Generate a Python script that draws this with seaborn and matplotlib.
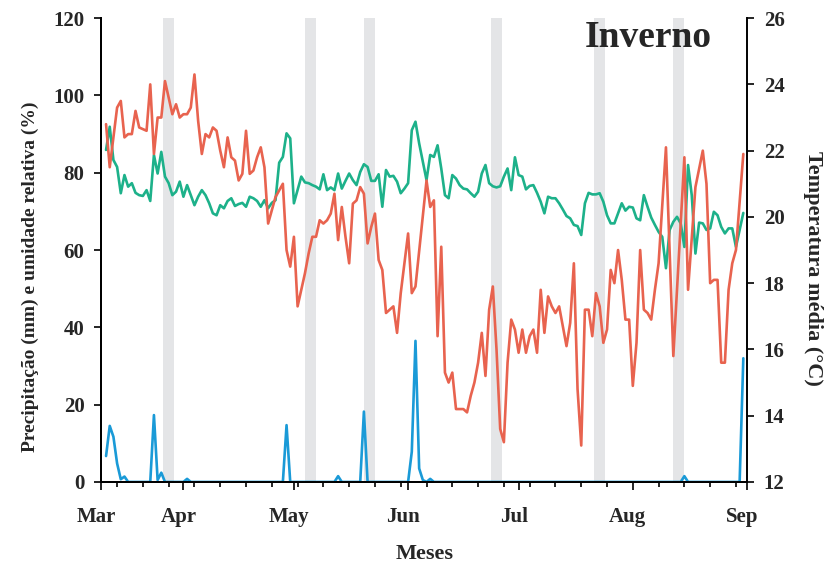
import matplotlib
matplotlib.use("Agg")
import matplotlib.pyplot as plt
from matplotlib.ticker import FixedLocator
from matplotlib.transforms import ScaledTranslation
import seaborn as sns

# days counted from 1 March
temp_day = [10, 11, 13, 14, 15, 16, 17, 18, 19, 21, 22, 23, 24, 25, 26, 27, 28, 29, 30, 31,
            32, 33, 34, 35, 36, 37, 38, 39, 40, 41, 42, 43, 44, 45, 46, 47, 48, 49, 50, 51,
            52, 53, 54, 55, 56, 57, 58, 59, 60, 61, 62, 63, 64, 65, 66, 67, 68, 69, 70, 71,
            72, 73, 74, 75, 76, 77, 78, 79, 80, 81, 82, 83, 84, 85, 86, 87, 88, 89, 90, 91,
            92, 93, 94, 97, 98, 99, 100, 101, 102, 103, 104, 105, 106, 107, 108, 109, 110, 111,
            112, 113, 114, 115, 116, 117, 118, 119, 120, 121, 122, 123, 124, 125, 126, 127, 128,
            129, 130, 131, 132, 133, 134, 135, 136, 137, 138, 139, 140, 141, 142, 143, 144, 145,
            146, 147, 148, 149, 150, 151, 152, 153, 154, 155, 156, 157, 158, 159, 160, 162, 164,
            165, 167, 168, 170, 172, 173, 174, 175, 176, 177, 178, 179, 180, 181, 183]
temp_c = [22.8, 21.5, 23.3, 23.5, 22.4, 22.5, 22.5, 23.2, 22.7, 22.6, 24.0, 21.9, 23.0, 23.0,
          24.1, 23.6, 23.1, 23.4, 23.0, 23.1, 23.1, 23.3, 24.3, 22.9, 21.9, 22.5, 22.4, 22.7,
          22.6, 22.0, 21.5, 22.4, 21.8, 21.7, 21.1, 21.3, 22.6, 21.3, 21.4, 21.8, 22.1, 21.5,
          19.8, 20.2, 20.6, 20.8, 21.0, 19.0, 18.5, 19.4, 17.3, 17.8, 18.3, 18.9, 19.4, 19.4,
          19.9, 19.8, 19.9, 20.1, 20.7, 19.3, 20.3, 19.4, 18.6, 20.4, 20.5, 20.9, 20.7, 19.2,
          19.7, 20.1, 18.7, 18.4, 17.1, 17.2, 17.3, 16.5, 17.7, 18.6, 19.5, 17.7, 17.9, 21.1,
          20.3, 20.5, 16.4, 19.1, 15.3, 15.0, 15.3, 14.2, 14.2, 14.2, 14.1, 14.6, 15.0, 15.6,
          16.5, 15.2, 17.2, 17.9, 16.0, 13.6, 13.2, 15.6, 16.9, 16.6, 15.9, 16.6, 15.9, 16.4,
          16.6, 15.9, 17.8, 16.5, 17.6, 17.3, 17.1, 17.3, 16.7, 16.1, 16.8, 18.6, 14.8, 13.1,
          17.2, 17.2, 16.4, 17.7, 17.3, 16.2, 16.6, 18.4, 18.0, 19.0, 18.1, 16.9, 16.9, 14.9,
          16.2, 19.0, 17.2, 17.1, 16.9, 17.8, 18.6, 22.1, 15.8, 17.8, 21.8, 17.8, 20.9, 22.0,
          21.0, 18.0, 18.1, 18.1, 15.6, 15.6, 17.8, 18.6, 19.0, 21.9]

hum_day = list(range(10, 182)) + [183]
hum_pct = [85.9, 91.9, 83.3, 81.5, 74.7, 79.4, 76.4, 77.3, 74.8, 74.2, 74.0, 75.5, 72.7, 84.6,
           79.8, 85.4, 79.0, 77.3, 74.2, 75.1, 77.7, 73.8, 76.8, 74.2, 71.6, 73.8, 75.5, 74.2,
           72.1, 69.5, 69.0, 71.6, 70.8, 72.7, 73.4, 71.4, 71.9, 72.2, 71.2, 73.8, 73.4, 72.7,
           71.2, 72.9, 70.8, 72.2, 72.9, 82.6, 84.1, 90.2, 88.9, 72.1, 75.5, 79.0, 77.5, 77.3,
           76.8, 76.4, 75.7, 79.6, 75.5, 76.2, 75.5, 79.8, 75.9, 77.9, 79.8, 78.1, 76.8, 80.2,
           82.2, 81.5, 77.9, 77.9, 79.6, 71.2, 80.7, 79.0, 79.2, 77.7, 74.7, 75.9, 77.3, 91.0,
           93.2, 87.6, 82.8, 78.1, 84.6, 84.1, 87.1, 81.1, 74.2, 73.4, 79.4, 78.5, 76.8, 75.9,
           75.7, 74.7, 73.8, 75.1, 79.8, 82.0, 77.3, 76.5, 76.2, 76.5, 79.0, 81.1, 75.5, 84.0,
           79.4, 79.0, 75.7, 76.6, 76.8, 74.8, 72.5, 69.5, 73.8, 73.4, 73.4, 72.1, 70.5, 68.8,
           68.2, 66.5, 66.2, 63.9, 72.1, 74.8, 74.4, 74.4, 74.7, 72.5, 69.0, 66.9, 66.9, 69.5,
           72.1, 70.2, 71.2, 71.0, 68.2, 67.7, 74.2, 71.2, 68.4, 66.5, 64.7, 63.4, 55.3, 65.2,
           67.3, 68.6, 66.9, 60.8, 82.0, 74.2, 59.1, 67.1, 66.9, 65.2, 65.6, 69.9, 69.0, 66.0,
           64.3, 65.6, 65.6, 60.8, 69.6]

rain_day = [10, 11, 12, 13, 14, 15, 16, 22, 23, 24, 25, 26, 31, 32, 33, 58, 59, 60, 72, 73, 74,
            79, 80, 81, 92, 93, 94, 95, 96, 97, 98, 99, 166, 167, 168, 182, 183]
rain_mm = [6.7, 14.5, 11.7, 4.8, 0.7, 1.4, 0, 0, 17.3, 0.5, 2.4, 0, 0, 0.8, 0, 0, 14.7, 0, 0, 1.5,
           0, 0, 18.2, 0, 0, 7.8, 36.5, 3.5, 0.5, 0, 0.8, 0, 0, 1.5, 0, 0, 32.0]

month_labels = ["Mar", "Apr", "May", "Jun", "Jul", "Aug", "Sep"]
month_days = [8.7, 31, 61, 92, 122, 153, 184]
week_days = list(range(13, 184, 7))

gray_bands = [(25.5, 28.5), (64, 67), (80, 83), (114.5, 117.5), (142.5, 145.5), (164, 167)]

red = "#e8634f"
green = "#1db18a"
blue = "#1a9ad7"

sns.set_theme(style="ticks")
plt.rcParams["font.family"] = ["Liberation Serif", "DejaVu Serif"]
plt.rcParams["font.weight"] = "bold"
plt.rcParams["axes.labelweight"] = "bold"

fig = plt.figure(figsize=(8.3, 5.67), dpi=100)
ax = fig.add_axes([0.122, 0.15, 0.778, 0.818])
ax2 = ax.twinx()

for a, b in gray_bands:
    ax.axvspan(a, b, color="#e4e5e7", lw=0, zorder=0)

sns.lineplot(x=hum_day, y=hum_pct, ax=ax, color=green, lw=1.9, zorder=3)
sns.lineplot(x=rain_day, y=rain_mm, ax=ax, color=blue, lw=1.9, zorder=3)
sns.lineplot(x=temp_day, y=temp_c, ax=ax2, color=red, lw=1.9, zorder=3)

ax.set_xlim(month_days[0], month_days[-1])
ax.set_ylim(0, 120)
ax.set_yticks(range(0, 121, 20))
ax2.set_ylim(12, 26)
ax2.set_yticks(range(12, 27, 2))

ax.xaxis.set_major_locator(FixedLocator(month_days))
ax.set_xticklabels(month_labels)
ax.xaxis.set_minor_locator(FixedLocator(week_days))

for a in (ax, ax2):
    a.spines["top"].set_visible(False)
    for s in a.spines.values():
        s.set_color("black")
        s.set_linewidth(1.4)
    a.tick_params(axis="y", which="major", direction="out", length=5, width=1.2,
                  color="black", labelsize=15, pad=7)
ax.spines["right"].set_visible(False)
ax.tick_params(axis="x", which="major", direction="out", length=6, width=1.2,
               color="black", labelsize=15, pad=12)
ax.tick_params(axis="x", which="minor", direction="out", length=3.5, width=1.2, color="black")

# month names sit a little left of their ticks in the original
shift = ScaledTranslation(-5 / 100, 0, fig.dpi_scale_trans)
for lbl in ax.get_xticklabels():
    lbl.set_transform(lbl.get_transform() + shift)

ax.set_xlabel("Meses", fontsize=16, fontweight="bold", labelpad=12)
ax.set_ylabel("Precipitação (mm) e umidade relativa (%)", fontsize=14, fontweight="bold")
ax.yaxis.set_label_coords(-0.097, 0.442)
ax2.set_ylabel("Temperatura média (°C)", fontsize=16, fontweight="bold", rotation=270)
ax2.yaxis.set_label_coords(1.118, 0.46)

ax.text(0.847, 0.959, "Inverno", transform=ax.transAxes, ha="center", va="center",
        fontsize=27, fontweight="bold")

fig.savefig("out.png", dpi=100)
